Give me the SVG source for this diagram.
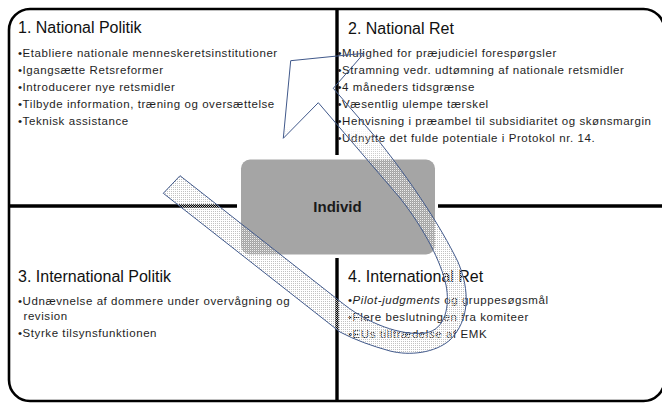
<svg xmlns="http://www.w3.org/2000/svg" width="662" height="403" viewBox="0 0 662 403">
  <style>
    .frame { fill: none; stroke: #000; stroke-width: 2.6; }
    .divider { stroke: #000; stroke-width: 3.4; fill: none; }
    .title { font-family: "Liberation Sans", Arial, sans-serif; font-size: 16px; fill: #111; }
    .item { font-family: "Liberation Sans", Arial, sans-serif; font-size: 11.5px; letter-spacing: 0.57px; fill: #1e1e1e; }
    .hub { fill: #a5a5a5; }
    .hub-label { font-family: "Liberation Sans", Arial, sans-serif; font-size: 15px; font-weight: bold; fill: #1a1a1a; text-anchor: middle; }
    .band-fill { fill: url(#dots); stroke: none; opacity: 0.8; }
    .band-edge { fill: none; stroke: #41598b; stroke-width: 1; stroke-linejoin: miter; }
  </style>
  <defs>
    <!-- fine dotted fill for the curved arrow -->
    <pattern id="dots" width="2" height="2" patternUnits="userSpaceOnUse">
      <rect x="0" y="0" width="1" height="1" fill="#ffffff"/>
      <rect x="1" y="1" width="1" height="1" fill="#b4b4b4"/>
    </pattern>
    <!-- the fill fades out towards the arrowhead -->
    <linearGradient id="fadeGrad" gradientUnits="userSpaceOnUse" x1="0" y1="125" x2="0" y2="160">
      <stop offset="0" stop-color="#000"/>
      <stop offset="1" stop-color="#fff"/>
    </linearGradient>
    <mask id="fadeMask" maskUnits="userSpaceOnUse" x="0" y="0" width="662" height="403">
      <rect x="0" y="0" width="662" height="403" fill="url(#fadeGrad)"/>
    </mask>
    <path id="arrowShape" d="M 180,175.7 L 345,305.2 C 368,323 400,336 425,333 C 446,330 450,305 446,285 C 441,262 425,230 400,198 L 318.3,102.7 L 283.3,138.3 L 290.7,60.7 L 364,53.3 L 333.3,88.3 L 378,140 C 410,180 440,225 458,262 C 470,290 470,320 450,340 C 435,353 410,356 390,351 C 372,346 355,340 340,332 L 163.3,193.3 Z"/>
  </defs>

  <rect width="662" height="403" fill="#fff"/>

  <!-- outer frame and quadrant dividers -->
  <g id="frame">
    <rect class="frame" x="9" y="9" width="655.5" height="392" rx="21" ry="21"/>
    <line class="divider" x1="337" y1="9" x2="337" y2="155"/>
    <line class="divider" x1="337" y1="258" x2="337" y2="401"/>
    <line class="divider" x1="9" y1="206" x2="237" y2="206"/>
    <line class="divider" x1="438" y1="206" x2="664" y2="206"/>
  </g>

  <g id="national-politik">
    <text class="title" x="18" y="33">1. National Politik</text>
    <text class="item" x="18" y="56.5">•Etabliere nationale menneskeretsinstitutioner</text>
    <text class="item" x="18" y="73.5">•Igangsætte Retsreformer</text>
    <text class="item" x="18" y="90.5">•Introducerer nye retsmidler</text>
    <text class="item" x="18" y="107.5">•Tilbyde information, træning og oversættelse</text>
    <text class="item" x="18" y="124.5">•Teknisk assistance</text>
  </g>

  <g id="national-ret">
    <text class="title" x="348" y="33.5">2. National Ret</text>
    <text class="item" x="337.5" y="56.5">•Mulighed for præjudiciel forespørgsler</text>
    <text class="item" x="337.5" y="73.5">•Stramning vedr. udtømning af nationale retsmidler</text>
    <text class="item" x="337.5" y="90.5">•4 måneders tidsgrænse</text>
    <text class="item" x="337.5" y="107.5">•Væsentlig ulempe tærskel</text>
    <text class="item" x="337.5" y="124.5">•Henvisning i præambel til subsidiaritet og skønsmargin</text>
    <text class="item" x="337.5" y="141.5">•Udnytte det fulde potentiale i Protokol nr. 14.</text>
  </g>

  <g id="international-politik">
    <text class="title" x="18" y="282">3. International Politik</text>
    <text class="item" x="18" y="304.5">•Udnævnelse af dommere under overvågning og</text>
    <text class="item" x="23.5" y="320">revision</text>
    <text class="item" x="18" y="337">•Styrke tilsynsfunktionen</text>
  </g>

  <g id="international-ret">
    <text class="title" x="348" y="282">4. International Ret</text>
    <text class="item" x="348" y="304">•<tspan font-style="italic">Pilot-judgments</tspan> og gruppesøgsmål</text>
    <text class="item" x="348" y="321">•Flere beslutningen fra komiteer</text>
    <text class="item" x="348" y="338">•EUs tilltrædelse af EMK</text>
  </g>

  <g id="individ">
    <rect class="hub" x="241" y="159.5" width="194" height="95" rx="9" ry="9"/>
    <text class="hub-label" x="337.5" y="211.5">Individ</text>
  </g>

  <!-- curved arrow looping from the left through the hub up to national law -->
  <g id="connectors">
    <use href="#arrowShape" class="band-fill" mask="url(#fadeMask)"/>
    <use href="#arrowShape" class="band-edge"/>
  </g>
</svg>
